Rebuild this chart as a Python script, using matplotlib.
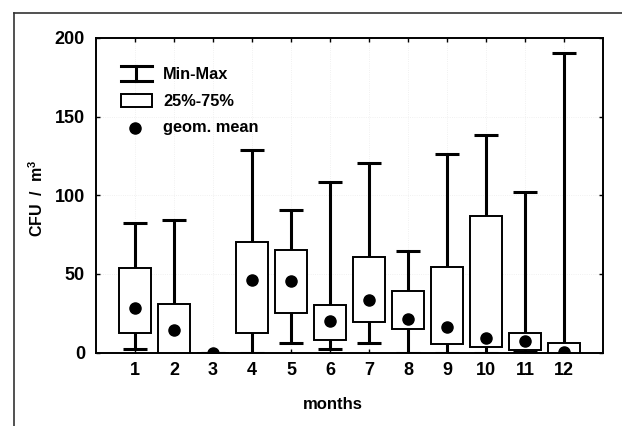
import matplotlib
matplotlib.use("Agg")
import matplotlib.pyplot as plt
from matplotlib.lines import Line2D
from matplotlib.patches import Rectangle

plt.rcParams['font.family'] = ['Liberation Sans', 'DejaVu Sans']
plt.rcParams['font.weight'] = 'bold'
plt.rcParams['mathtext.fontset'] = 'custom'
plt.rcParams['mathtext.rm'] = 'Liberation Sans:bold'
plt.rcParams['mathtext.bf'] = 'Liberation Sans:bold'

months = [1, 2, 3, 4, 5, 6, 7, 8, 9, 10, 11, 12]
v_min = [2.0, 0.0, 0.0, 0.0, 6.3, 2.0, 5.9, 0.0, 0.0, 0.0, 0.5, 0.0]
v_max = [82.4, 84.5, 0.0, 128.5, 90.5, 108.4, 120.5, 64.3, 126.0, 138.0, 102.0, 190.5]
q25 = [12.3, 0.0, 0.0, 12.7, 25.4, 8.0, 19.7, 14.8, 5.2, 3.7, 1.6, 0.0]
q75 = [54.0, 30.7, 0.0, 70.5, 65.4, 30.3, 60.5, 39.2, 54.1, 87.0, 12.2, 5.9]
gmean = [28.2, 14.0, 0.0, 46.3, 45.2, 20.1, 33.5, 21.2, 16.1, 9.0, 7.3, 0.3]

yticks = [0, 50, 100, 150, 200]
legend_labels = ["Min-Max", "25%-75%", "geom. mean"]

fig = plt.figure(figsize=(6.22, 4.26), dpi=100)
ax = fig.add_axes([96/622, 1-352.5/426, 507/622, 314.5/426])

# faint grid
ax.grid(True, color='#ececec', linestyle=':', linewidth=0.6, zorder=0)

# whiskers
ax.vlines(months, v_min, v_max, colors='black', linewidth=2.2, zorder=2)
ax.hlines(v_max, [m - 0.3 for m in months], [m + 0.3 for m in months],
          colors='black', linewidth=2.2, zorder=2)
ax.hlines(v_min, [m - 0.3 for m in months], [m + 0.3 for m in months],
          colors='black', linewidth=2.2, zorder=2)
# boxes
heights = [b - a for a, b in zip(q25, q75)]
ax.bar(months, heights, bottom=q25, width=0.8, color='white',
       edgecolor='black', linewidth=1.4, zorder=3)
# geometric means
ax.plot(months, gmean, 'o', color='black', markersize=8, zorder=4)

ax.set_xlim(0, 13)
ax.set_ylim(0, 200)
ax.set_xticks(months)
ax.set_yticks(yticks)
ax.tick_params(direction='in', length=3, width=1, top=True, right=True,
               labelsize=13, colors='black')
ax.tick_params(axis='x', pad=7)
ax.tick_params(axis='y', pad=8)
for s in ax.spines.values():
    s.set_linewidth(1.4)

ax.set_ylabel("CFU  /  m$^{3}$", fontsize=11.5, fontweight='bold')
ax.yaxis.set_label_coords((46-96)/507, 0.49)
ax.set_xlabel("months", fontsize=12, fontweight='bold')
ax.xaxis.set_label_coords((333-96)/507, -0.14)

# legend drawn manually in axes fraction
T = ax.transAxes
x0, x1, xc = 0.0487, 0.1099, 0.0789
ax.add_line(Line2D([x0, x1], [0.911, 0.911], color='black', lw=2.2, transform=T, clip_on=False))
ax.add_line(Line2D([x0, x1], [0.863, 0.863], color='black', lw=2.2, transform=T, clip_on=False))
ax.add_line(Line2D([xc, xc], [0.863, 0.911], color='black', lw=2.2, transform=T, clip_on=False))
ax.add_patch(Rectangle((x0, 0.780), x1 - x0, 0.041, facecolor='white', edgecolor='black',
                       lw=1.4, transform=T, zorder=5))
ax.add_line(Line2D([0.0769], [0.715], marker='o', color='black', markersize=8,
                   transform=T, linestyle='none'))
for lab, yy in zip(legend_labels, [0.884, 0.799, 0.716]):
    ax.text(0.1327, yy, lab, transform=T, fontsize=11.8, fontweight='bold', va='center', ha='left')

# outer frame of the scanned figure
fig.add_artist(Line2D([14/622, 14/622], [0, 1-12.5/426], color='#333333', lw=1.2, transform=fig.transFigure))
fig.add_artist(Line2D([14/622, 1], [1-12.5/426, 1-12.5/426], color='#333333', lw=1.2, transform=fig.transFigure))

fig.savefig("out.png", dpi=100)
